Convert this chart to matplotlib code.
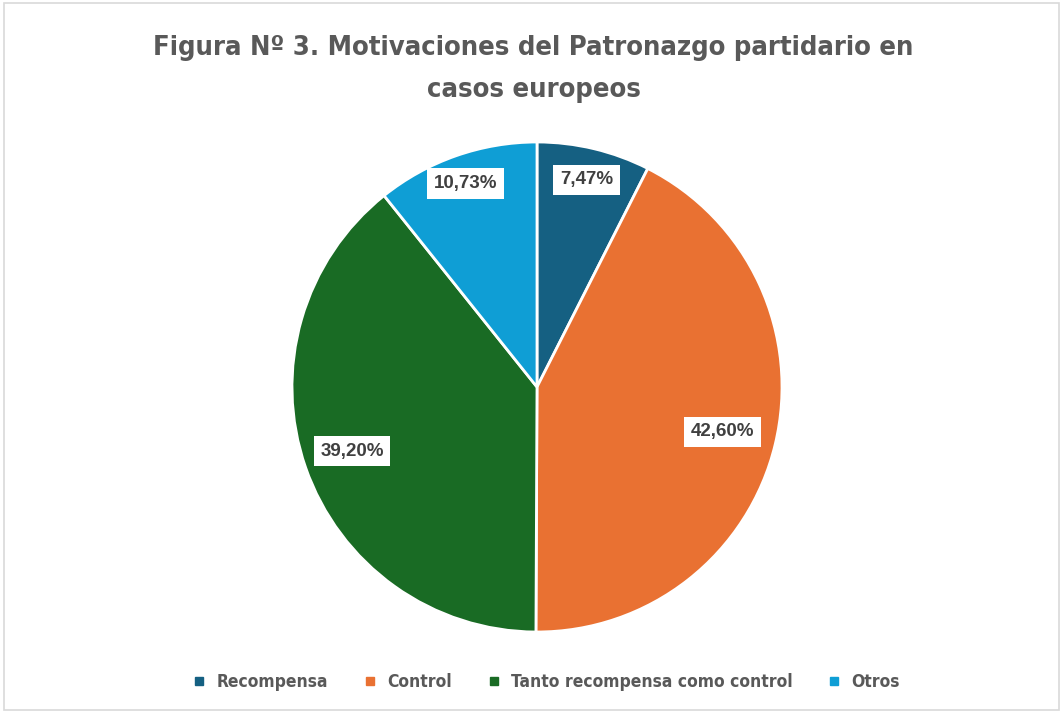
import numpy as np
import matplotlib.pyplot as plt
from matplotlib.patches import Rectangle

categories = ["Recompensa", "Control", "Tanto recompensa como control", "Otros"]
values = [7.47, 42.60, 39.20, 10.73]
labels = ["7,47%", "42,60%", "39,20%", "10,73%"]
colors = ["#156082", "#E97132", "#196B24", "#0F9ED5"]

fig = plt.figure(figsize=(10.63, 7.13), dpi=100)
# light frame round the chart
fig.patches.append(Rectangle((0.004, 0.004), 0.992, 0.992, transform=fig.transFigure,
                             fill=False, edgecolor="#D9D9D9", linewidth=1.2))

# pie centre ~ (537, 387) px, radius ~245 px
r_px = 245
ax = fig.add_axes([(537 - r_px) / 1063, 1 - (387 + r_px) / 713, 2 * r_px / 1063, 2 * r_px / 713])
wedges, _ = ax.pie(values, colors=colors, startangle=90, counterclock=False,
                   wedgeprops=dict(edgecolor="white", linewidth=2))
ax.set_aspect("auto")
ax.set_xlim(-1, 1)
ax.set_ylim(-1, 1)

# label distances as fraction of radius (Excel best fit)
dist = [0.87, 0.78, 0.80, 0.88]
for w, lab, d in zip(wedges, labels, dist):
    ang = np.deg2rad((w.theta1 + w.theta2) / 2)
    ax.text(d * np.cos(ang), d * np.sin(ang), lab, ha="center", va="center",
            fontsize=13.5, fontweight="bold", color="#404040", family="Liberation Sans",
            bbox=dict(boxstyle="square,pad=0.35", facecolor="white", edgecolor="none"))

for y, line in [(48, "Figura N\u00ba 3. Motivaciones del Patronazgo partidario en"),
                (90, "casos europeos")]:
    fig.text(0.502, 1 - y / 713, line, ha="center", va="center", fontsize=19.6,
             fontweight="bold", color="#595959", family="DejaVu Sans", fontstretch="condensed")

handles = [plt.Line2D([], [], marker="s", linestyle="none", markersize=6,
                      markerfacecolor=c, markeredgecolor=c) for c in colors]
leg = fig.legend(handles, categories, loc="center", bbox_to_anchor=(0.509, 1 - 682 / 713),
                 ncol=4, frameon=False, handletextpad=0.0, columnspacing=1.4,
                 prop=dict(family="DejaVu Sans", stretch="condensed", size=12.5, weight="bold"))
for t in leg.get_texts():
    t.set_color("#595959")

fig.savefig("out.png", dpi=100)
